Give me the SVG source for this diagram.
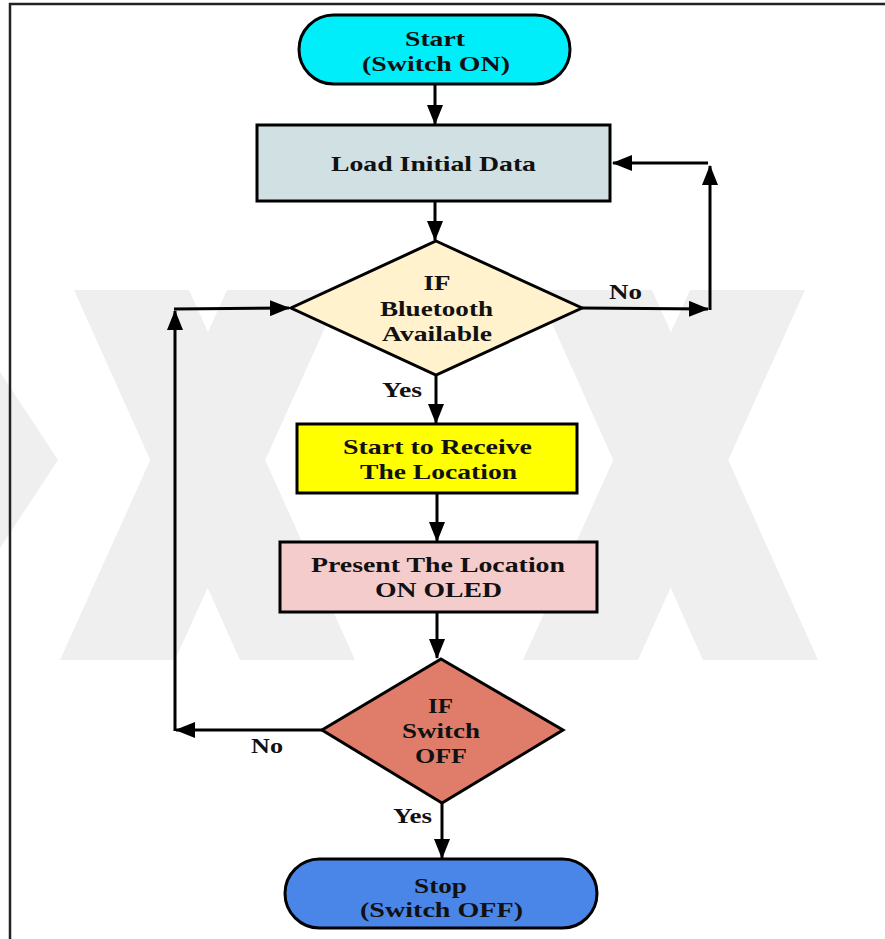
<svg xmlns="http://www.w3.org/2000/svg" width="885" height="939" viewBox="0 0 885 939">
  <defs>
    <marker id="arrow" viewBox="0 0 20 16" refX="19" refY="8" markerWidth="20" markerHeight="16" markerUnits="userSpaceOnUse" orient="auto">
      <path d="M0,0 L20,8 L0,16 z" fill="#000"/>
    </marker>
    <style>
      .shape { stroke: #000; stroke-width: 3; }
      .label { font-family: "Liberation Serif", "Times New Roman", serif; font-weight: bold; font-size: 21px; fill: #111; text-anchor: middle; }
      .edge { fill: none; stroke: #000; stroke-width: 3; }
      .wm { fill: #efefef; }
    </style>
  </defs>

  <rect x="0" y="0" width="885" height="939" fill="#fff"/>

  <!-- faint background emblem: crossed bands -->
  <g id="emblem">
    <polygon class="wm" points="0,372 58,460 0,548"/>
    <polygon class="wm" points="74,290 189,290 355,660 240,660"/>
    <polygon class="wm" points="227,290 342,290 175,660 60,660"/>
    <polygon class="wm" points="537,290 652,290 818,660 703,660"/>
    <polygon class="wm" points="690,290 805,290 638,660 523,660"/>
  </g>

  <!-- page frame -->
  <path d="M10,939 L10,4 L885,4" fill="none" stroke="#222" stroke-width="2.5"/>

  <!-- connectors -->
  <g id="connectors">
    <line class="edge" x1="435" y1="84" x2="435" y2="124" marker-end="url(#arrow)"/>
    <line class="edge" x1="435" y1="201" x2="435" y2="240" marker-end="url(#arrow)"/>
    <line class="edge" x1="582" y1="308" x2="708" y2="309" marker-end="url(#arrow)"/>
    <line class="edge" x1="710" y1="310" x2="710" y2="166" marker-end="url(#arrow)"/>
    <line class="edge" x1="708" y1="163" x2="613" y2="163" marker-end="url(#arrow)"/>
    <line class="edge" x1="436" y1="375" x2="436" y2="423" marker-end="url(#arrow)"/>
    <line class="edge" x1="437" y1="494" x2="437" y2="541" marker-end="url(#arrow)"/>
    <line class="edge" x1="437" y1="613" x2="437" y2="658" marker-end="url(#arrow)"/>
    <line class="edge" x1="442" y1="803" x2="442" y2="858" marker-end="url(#arrow)"/>
    <line class="edge" x1="322" y1="730" x2="176" y2="730" marker-end="url(#arrow)"/>
    <line class="edge" x1="175" y1="731" x2="175" y2="311" marker-end="url(#arrow)"/>
    <line class="edge" x1="174" y1="309" x2="289" y2="308" marker-end="url(#arrow)"/>
    <text class="label" x="625.5" y="299" textLength="33" lengthAdjust="spacingAndGlyphs">No</text>
    <text class="label" x="402" y="397" textLength="40" lengthAdjust="spacingAndGlyphs">Yes</text>
    <text class="label" x="267" y="753" textLength="32" lengthAdjust="spacingAndGlyphs">No</text>
    <text class="label" x="412.5" y="823" textLength="39" lengthAdjust="spacingAndGlyphs">Yes</text>
  </g>

  <g id="start">
    <rect class="shape" x="299" y="15" width="271" height="69" rx="34.5" fill="#00eefa"/>
    <text class="label" x="435" y="46" textLength="60" lengthAdjust="spacingAndGlyphs">Start</text>
    <text class="label" x="436" y="71" textLength="148" lengthAdjust="spacingAndGlyphs">(Switch ON)</text>
  </g>

  <g id="load">
    <rect class="shape" x="257" y="125" width="353" height="76" fill="#d0e0e3"/>
    <text class="label" x="433.5" y="171" textLength="205" lengthAdjust="spacingAndGlyphs">Load Initial Data</text>
  </g>

  <g id="bluetooth">
    <polygon class="shape" points="436,241 582,308 436,375 291,308" fill="#fff2cc"/>
    <text class="label" x="437" y="290" textLength="27" lengthAdjust="spacingAndGlyphs">IF</text>
    <text class="label" x="436.5" y="316" textLength="113" lengthAdjust="spacingAndGlyphs">Bluetooth</text>
    <text class="label" x="437" y="341" textLength="110" lengthAdjust="spacingAndGlyphs">Available</text>
  </g>

  <g id="receive">
    <rect class="shape" x="297" y="424" width="280" height="69" fill="#ffff00"/>
    <text class="label" x="437.5" y="454" textLength="189" lengthAdjust="spacingAndGlyphs">Start to Receive</text>
    <text class="label" x="438.5" y="479" textLength="157" lengthAdjust="spacingAndGlyphs">The Location</text>
  </g>

  <g id="present">
    <rect class="shape" x="280" y="542" width="317" height="70" fill="#f4cccc"/>
    <text class="label" x="438" y="572" textLength="254" lengthAdjust="spacingAndGlyphs">Present The Location</text>
    <text class="label" x="438.5" y="597" textLength="127" lengthAdjust="spacingAndGlyphs">ON OLED</text>
  </g>

  <g id="switch">
    <polygon class="shape" points="441,659 563,730 442,803 322,730" fill="#e07d6a"/>
    <text class="label" x="440.5" y="713" textLength="25" lengthAdjust="spacingAndGlyphs">IF</text>
    <text class="label" x="441" y="738" textLength="78" lengthAdjust="spacingAndGlyphs">Switch</text>
    <text class="label" x="441" y="763" textLength="52" lengthAdjust="spacingAndGlyphs">OFF</text>
  </g>

  <g id="stop">
    <rect class="shape" x="285" y="859" width="312" height="69" rx="34.5" fill="#4a86e8"/>
    <text class="label" x="440.5" y="893" textLength="53" lengthAdjust="spacingAndGlyphs">Stop</text>
    <text class="label" x="441.5" y="917" textLength="163" lengthAdjust="spacingAndGlyphs">(Switch OFF)</text>
  </g>
</svg>
